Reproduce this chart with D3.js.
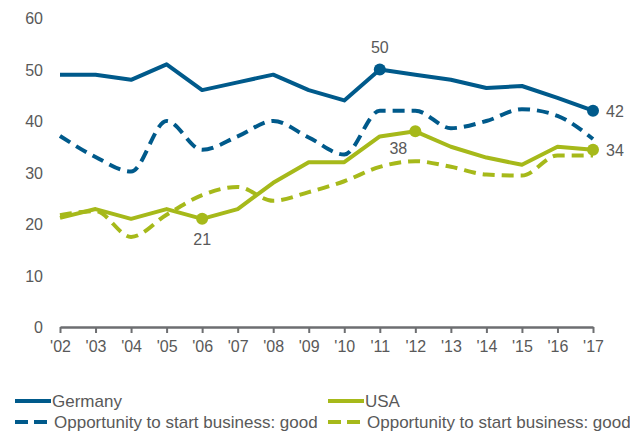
<!DOCTYPE html>
<html>
<head>
<meta charset="utf-8">
<script src="https://cdn.jsdelivr.net/npm/d3@7"></script>
<style>
    body { margin: 0; background: #fff; }
    text { font-family: "Liberation Sans", Arial, sans-serif; fill: #595959; }
</style>
</head>
<body>
<svg id="chart" width="630" height="434"></svg>
<script>
// 年（x軸）
const years = ["'02", "'03", "'04", "'05", "'06", "'07", "'08", "'09", "'10", "'11", "'12", "'13", "'14", "'15", "'16", "'17"];
// y軸の目盛り
const yTicks = [0, 10, 20, 30, 40, 50, 60];

const germany = [49, 49, 48, 51, 46, 47.5, 49, 46, 44, 50, 49, 48, 46.4, 46.8, 44.5, 42];
const germanyOpp = [37.1, 33, 30.2, 40, 34.4, 37, 40, 36.8, 33.5, 42, 42, 38.6, 40, 42.3, 41, 36.5];
const usa = [21.2, 22.9, 21, 22.9, 21, 22.9, 28, 32, 32, 37, 38, 35, 32.9, 31.5, 35, 34.4];
const usaOpp = [21.7, 22.5, 17.5, 21.8, 25.6, 27.2, 24.5, 26.2, 28.3, 31.1, 32.2, 31.1, 29.6, 29.4, 33.3, 33.3];

// 凡例
const legendNames = ["Germany", "USA", "Opportunity to start business: good", "Opportunity to start business: good"];

// 注記ラベル: [年のindex, 表示値]
const labelsGermany = [[9, "50"], [15, "42"]];
const labelsUsa = [[4, "21"], [10, "38"], [15, "34"]];

const BLUE = "#005a8b";
const GREEN = "#a6b91a";

function main() {
    const svg = d3.select("#chart");

    const x = d3.scalePoint().domain(years).range([60, 593]);
    const y = d3.scaleLinear().domain([0, 60]).range([327, 18]);

    // y軸ラベル（軸線なし）
    svg.append("g")
        .selectAll("text")
        .data(yTicks)
        .join("text")
        .attr("x", 43)
        .attr("y", d => y(d) + 6)
        .attr("text-anchor", "end")
        .attr("font-size", 16)
        .text(d => d);

    // x軸
    const xAxis = svg.append("g")
        .attr("transform", "translate(0," + y(0) + ")")
        .call(d3.axisBottom(x).tickSize(6).tickSizeOuter(0).tickPadding(8));
    xAxis.select(".domain").attr("stroke", "#6d6e71").attr("stroke-width", 2.5);
    xAxis.selectAll(".tick line").attr("stroke", "#6d6e71").attr("stroke-width", 2);
    xAxis.selectAll(".tick text")
        .attr("font-size", 16)
        .attr("font-family", "Liberation Sans, Arial, sans-serif")
        .attr("fill", "#595959");

    const lineStraight = d3.line()
        .x((d, i) => x(years[i]))
        .y(d => y(d));
    const lineSmooth = d3.line()
        .x((d, i) => x(years[i]))
        .y(d => y(d))
        .curve(d3.curveMonotoneX);

    /** 系列を描画する
     *
     * @param {number[]} values 値
     * @param {string} color 色
     * @param {boolean} dashed 破線かどうか
     */
    function drawSeries(values, color, dashed) {
        svg.append("path")
            .datum(values)
            .attr("fill", "none")
            .attr("stroke", color)
            .attr("stroke-width", 4)
            .attr("stroke-linejoin", "round")
            .attr("stroke-dasharray", dashed ? "12,7" : null)
            .attr("d", dashed ? lineSmooth : lineStraight);
    }

    drawSeries(usaOpp, GREEN, true);
    drawSeries(germanyOpp, BLUE, true);
    drawSeries(usa, GREEN, false);
    drawSeries(germany, BLUE, false);

    // マーカーと値ラベル
    function drawMarkers(values, labels, color, offsets) {
        labels.forEach(function (l, k) {
            const i = l[0];
            svg.append("circle")
                .attr("cx", x(years[i]))
                .attr("cy", y(values[i]))
                .attr("r", 6)
                .attr("fill", color);
            svg.append("text")
                .attr("x", x(years[i]) + offsets[k][0])
                .attr("y", y(values[i]) + offsets[k][1])
                .attr("text-anchor", offsets[k][2])
                .attr("font-size", 16)
                .text(l[1]);
        });
    }
    drawMarkers(germany, labelsGermany, BLUE, [[0, -17, "middle"], [13, 6, "start"]]);
    drawMarkers(usa, labelsUsa, GREEN, [[0, 26, "middle"], [-17, 23, "middle"], [13, 6, "start"]]);

    // 凡例
    const legend = [
        { x: 15, y: 401, color: BLUE, dashed: false },
        { x: 328, y: 401, color: GREEN, dashed: false },
        { x: 15, y: 422, color: BLUE, dashed: true },
        { x: 328, y: 422, color: GREEN, dashed: true }
    ];
    legend.forEach(function (d, i) {
        svg.append("line")
            .attr("x1", d.x)
            .attr("x2", d.x + (d.dashed ? 32 : 36))
            .attr("y1", d.y)
            .attr("y2", d.y)
            .attr("stroke", d.color)
            .attr("stroke-width", 4)
            .attr("stroke-dasharray", d.dashed ? "13,6" : null);
        svg.append("text")
            .attr("x", d.x + (d.dashed ? 39 : 37))
            .attr("y", d.y + 6)
            .attr("font-size", 17)
            .text(legendNames[i]);
    });
}

main();
</script>
</body>
</html>
